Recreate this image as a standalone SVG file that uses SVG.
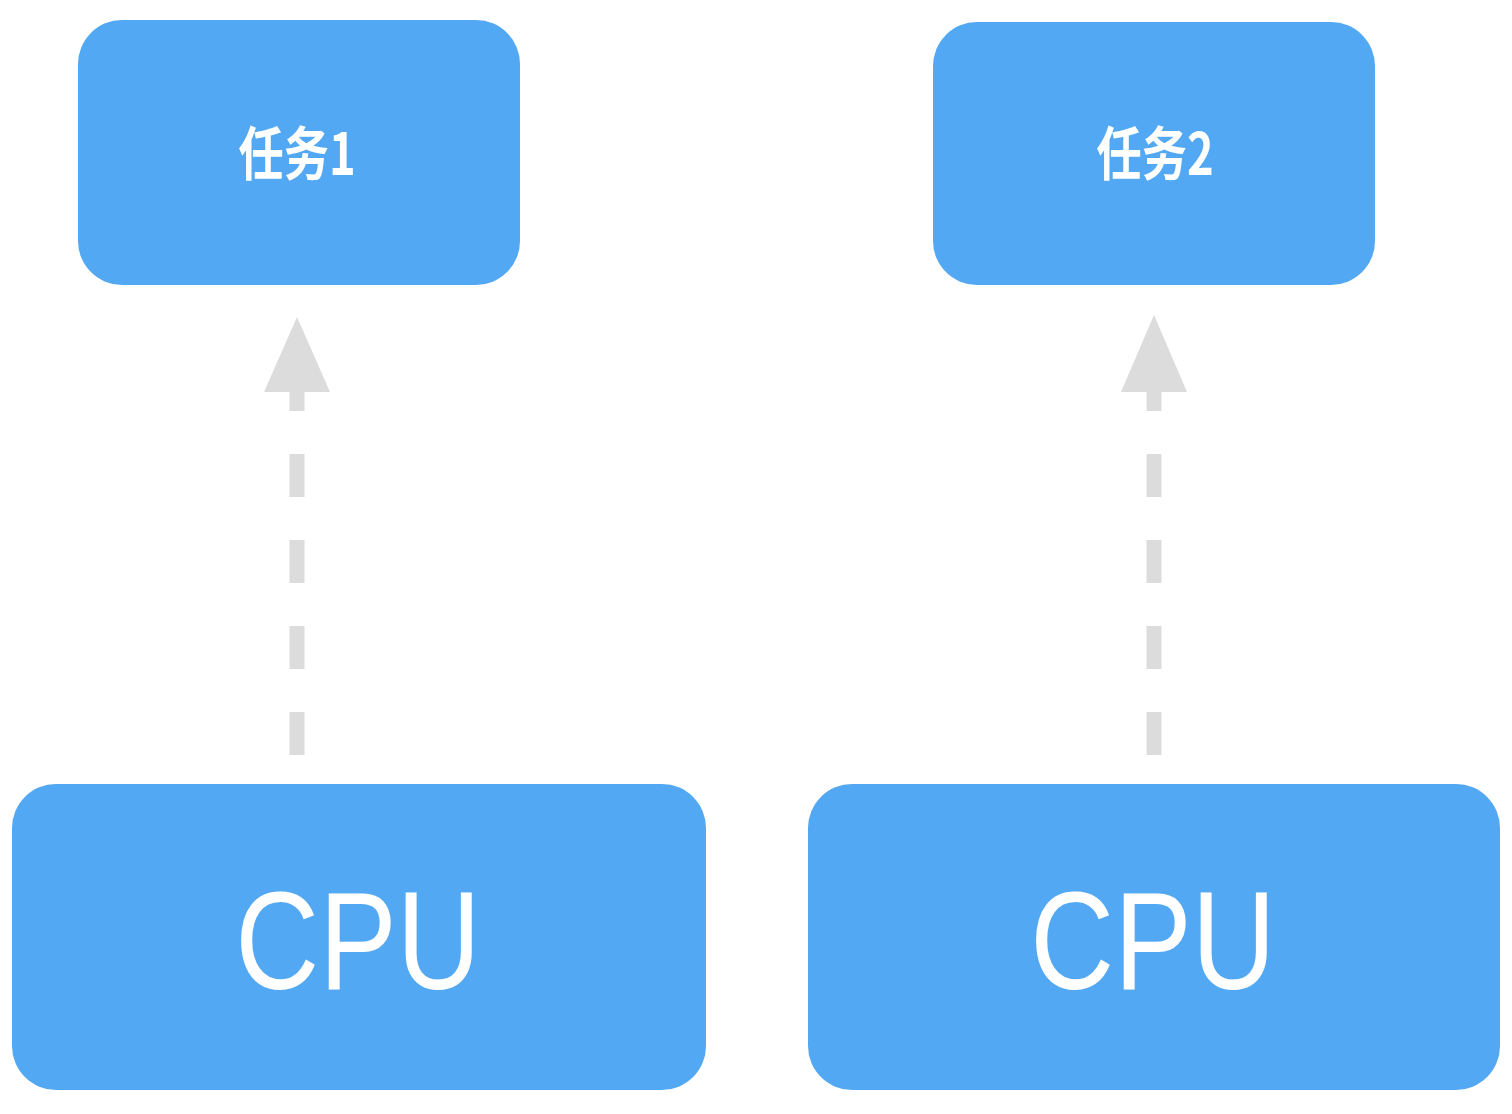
<svg xmlns="http://www.w3.org/2000/svg" width="1512" height="1114" viewBox="0 0 1512 1114">
<style>
.box{fill:#52A8F2;}
.lbl{fill:#ffffff;text-anchor:middle;}
.task{font-family:"Noto Sans CJK SC","Noto Sans",sans-serif;font-size:58px;font-weight:bold;}
.cpu{font-family:"Liberation Sans",Arial,sans-serif;font-size:140px;}
.conn{stroke:#DCDCDC;stroke-width:15;fill:none;stroke-dasharray:43 43;}
.head{fill:#DCDCDC;}
</style>
<rect width="1512" height="1114" fill="#ffffff"/>
<g id="task1">
<rect class="box" x="78" y="20" width="442" height="265" rx="44"/>
<text class="lbl task" transform="translate(297,175) scale(0.78,1)">任务1</text>
</g>
<g id="task2">
<rect class="box" x="933" y="22" width="442" height="263" rx="44"/>
<text class="lbl task" transform="translate(1155,175) scale(0.78,1)">任务2</text>
</g>
<g id="cpu1">
<rect class="box" x="12" y="784" width="694" height="306" rx="44"/>
<text class="lbl cpu" transform="translate(358,989) scale(0.83,1)">CPU</text>
</g>
<g id="cpu2">
<rect class="box" x="808" y="784" width="692" height="306" rx="44"/>
<text class="lbl cpu" transform="translate(1153,989) scale(0.83,1)">CPU</text>
</g>
<g id="connectors">
<path class="conn" d="M297 755 V392"/>
<polygon class="head" points="297,317 330,392 264,392"/>
<path class="conn" d="M1154 755 V392"/>
<polygon class="head" points="1154,315 1187,392 1121,392"/>
</g>
</svg>
